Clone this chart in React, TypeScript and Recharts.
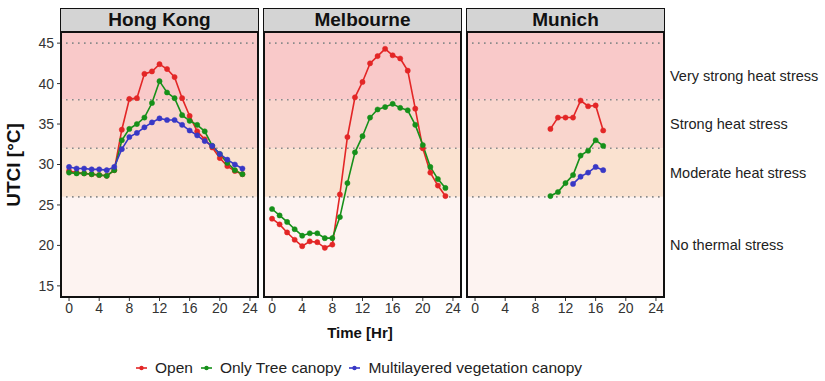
import React from 'react';
import { LineChart, Line, XAxis, YAxis, ReferenceArea, ReferenceLine } from 'recharts';

const hours = [0, 1, 2, 3, 4, 5, 6, 7, 8, 9, 10, 11, 12, 13, 14, 15, 16, 17, 18, 19, 20, 21, 22, 23];

const hkOpen = [29.2, 29.0, 28.9, 28.8, 28.7, 28.6, 29.3, 34.3, 38.1, 38.2, 41.2, 41.5, 42.4, 41.8, 40.8, 38.2, 36.0, 34.1, 33.1, 32.1, 30.8, 29.8, 29.2, 28.8];
const hkTree = [29.0, 28.9, 28.9, 28.8, 28.7, 28.6, 29.3, 33.0, 34.4, 35.0, 35.8, 37.6, 40.3, 38.9, 38.2, 36.1, 35.4, 34.9, 34.1, 32.3, 31.3, 30.2, 29.3, 28.8];
const hkMulti = [29.7, 29.5, 29.5, 29.4, 29.4, 29.3, 29.7, 31.9, 33.4, 33.9, 34.6, 35.2, 35.7, 35.5, 35.5, 34.9, 34.2, 33.6, 32.9, 32.3, 31.3, 30.6, 30.0, 29.5];

const melOpen = [23.3, 22.6, 21.6, 20.7, 19.9, 20.5, 20.4, 19.7, 20.1, 26.3, 33.4, 38.3, 40.2, 42.5, 43.4, 44.3, 43.5, 43.1, 41.6, 36.9, 32.0, 29.0, 27.4, 26.1];
const melTree = [24.5, 23.7, 22.9, 22.0, 21.2, 21.5, 21.5, 20.9, 20.9, 23.5, 27.7, 31.5, 33.5, 35.8, 36.8, 37.1, 37.5, 37.0, 36.7, 34.9, 32.4, 29.7, 28.2, 27.1];
const melMulti: (number | null)[] = hours.map(() => null);

const munOpen = [null, null, null, null, null, null, null, null, null, null, 34.4, 35.8, 35.8, 35.8, 37.9, 37.2, 37.3, 34.2, null, null, null, null, null, null];
const munTree = [null, null, null, null, null, null, null, null, null, null, 26.1, 26.6, 27.7, 28.7, 31.1, 31.7, 33.0, 32.3, null, null, null, null, null, null];
const munMulti = [null, null, null, null, null, null, null, null, null, null, null, null, null, 27.6, 28.5, 29.0, 29.7, 29.3, null, null, null, null, null, null];

const cities = ['Hong Kong', 'Melbourne', 'Munich'];
const seriesNames = ['Open', 'Only Tree canopy', 'Multilayered vegetation canopy'];
const seriesColors = ['#e32626', '#16901a', '#3838c6'];
const xTicks = [0, 4, 8, 12, 16, 20, 24];
const yTicks = [15, 20, 25, 30, 35, 40, 45];
const stressLines = [26, 32, 38, 45];
const bandEdges = [13.5, 26, 32, 38, 46.5];
const bandColors = ['#fdf3f1', '#fae2d0', '#f9d5cd', '#f9c9c9'];
const bandLabels = ['No thermal stress', 'Moderate heat stress', 'Strong heat stress', 'Very strong heat stress'];
const bandLabelValues = [20, 29, 35, 41];

const FONT = '"Liberation Sans", Arial, sans-serif';
const PLOT_TOP = 31;
const PW = 199;
const PH = 267;
const PANEL_LEFTS = [60, 263, 466];
const Y_DOMAIN: [number, number] = [13.5, 46.5];
const X_DOMAIN: [number, number] = [-1.2, 25.2];

function buildData(o: (number | null)[], t: (number | null)[], m: (number | null)[]) {
  return hours.map((h, i) => ({ hour: h, open: o[i], tree: t[i], multi: m[i] }));
}

const cityData = [
  buildData(hkOpen, hkTree, hkMulti),
  buildData(melOpen, melTree, melMulti),
  buildData(munOpen, munTree, munMulti),
];

const valueToY = (v: number) => PLOT_TOP + ((Y_DOMAIN[1] - v) / (Y_DOMAIN[1] - Y_DOMAIN[0])) * PH;

function Panel({ idx }: { idx: number }) {
  const showY = idx === 0;
  const yW = showY ? 45 : 0;
  const left = PANEL_LEFTS[idx];
  const keys = ['open', 'tree', 'multi'];
  return (
    <div style={{ position: 'absolute', left: left - yW, top: PLOT_TOP }}>
      <LineChart width={PW + yW} height={PH + 25} data={cityData[idx]} margin={{ top: 0, right: 0, bottom: 0, left: 0 }}>
        <XAxis
          dataKey="hour"
          type="number"
          domain={X_DOMAIN}
          ticks={xTicks}
          interval={0}
          allowDataOverflow
          height={25}
          tickSize={3}
          tickMargin={2}
          axisLine={false}
          tickLine={{ stroke: '#333' }}
          tick={{ fill: '#333', fontSize: 14, fontFamily: FONT }}
        />
        <YAxis
          type="number"
          domain={Y_DOMAIN}
          ticks={yTicks}
          interval={0}
          allowDataOverflow
          hide={!showY}
          width={45}
          tickSize={3}
          tickMargin={3}
          axisLine={false}
          tickLine={{ stroke: '#333' }}
          tick={{ fill: '#333', fontSize: 14, fontFamily: FONT }}
        />
        {bandColors.map((c, i) => (
          <ReferenceArea key={'b' + i} y1={bandEdges[i]} y2={bandEdges[i + 1]} fill={c} fillOpacity={1} stroke="none" ifOverflow="hidden" />
        ))}
        {stressLines.map((v) => (
          <ReferenceLine key={'l' + v} y={v} stroke="#8a8a8a" strokeWidth={1.6} strokeDasharray="1.6 4.4" />
        ))}
        {keys.map((k, si) => (
          <Line
            key={k}
            dataKey={k}
            type="linear"
            stroke={seriesColors[si]}
            strokeWidth={1.6}
            dot={{ r: 2.6, fill: seriesColors[si], stroke: seriesColors[si], strokeWidth: 0.5 }}
            isAnimationActive={false}
            connectNulls={false}
          />
        ))}
      </LineChart>
      <div
        style={{
          position: 'absolute',
          left: yW,
          top: 0,
          width: PW,
          height: PH,
          border: '2px solid #111',
          boxSizing: 'border-box',
          pointerEvents: 'none',
        }}
      />
      <div
        style={{
          position: 'absolute',
          left: yW,
          top: -23,
          width: PW,
          height: 24,
          border: '1.5px solid #111',
          background: '#d4d4d4',
          boxSizing: 'border-box',
          fontFamily: FONT,
          fontWeight: 'bold',
          fontSize: 19,
          lineHeight: '21px',
          textAlign: 'center',
          color: '#111',
        }}
      >
        {cities[idx]}
      </div>
    </div>
  );
}

export default function App() {
  return (
    <div style={{ position: 'absolute', left: 0, top: 0, width: 825, height: 381, background: '#fff', fontFamily: FONT, overflow: 'hidden' }}>
      {[0, 1, 2].map((i) => (
        <Panel key={i} idx={i} />
      ))}
      {bandLabels.map((t, i) => (
        <div
          key={t}
          style={{ position: 'absolute', left: 670, top: valueToY(bandLabelValues[i]) - 9, fontSize: 14.5, lineHeight: '18px', color: '#222', whiteSpace: 'nowrap' }}
        >
          {t}
        </div>
      ))}
      <div
        style={{
          position: 'absolute',
          left: 14 - 60,
          top: PLOT_TOP + PH / 2 - 12,
          width: 120,
          height: 24,
          lineHeight: '24px',
          textAlign: 'center',
          transform: 'rotate(-90deg)',
          fontWeight: 'bold',
          fontSize: 19,
          color: '#111',
          whiteSpace: 'nowrap',
        }}
      >
        UTCI [°C]
      </div>
      <div style={{ position: 'absolute', left: 260, top: 323, width: 200, textAlign: 'center', fontWeight: 'bold', fontSize: 15, lineHeight: '20px', color: '#111' }}>
        Time [Hr]
      </div>
      <div style={{ position: 'absolute', left: 135, top: 358, display: 'flex', alignItems: 'center', fontSize: 15.5, lineHeight: '20px', color: '#222', whiteSpace: 'nowrap' }}>
        {seriesNames.map((n, i) => (
          <div key={n} style={{ display: 'flex', alignItems: 'center', marginRight: 7 }}>
            <svg width={13} height={10} style={{ marginRight: 7 }}>
              <line x1={1} y1={5} x2={12} y2={5} stroke={seriesColors[i]} strokeWidth={1.6} />
              <circle cx={6.5} cy={5} r={2.2} fill={seriesColors[i]} />
            </svg>
            <span>{n}</span>
          </div>
        ))}
      </div>
    </div>
  );
}
